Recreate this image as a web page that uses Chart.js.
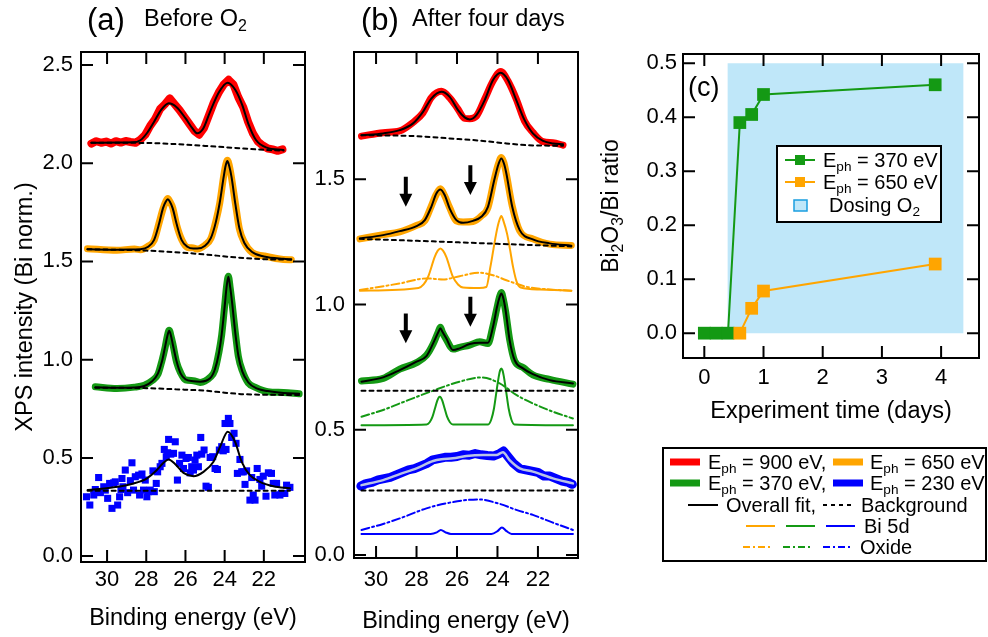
<!DOCTYPE html>
<html><head><meta charset="utf-8">
<script src="https://cdn.jsdelivr.net/npm/chart.js@4.4.1/dist/chart.umd.min.js"></script>
<style>
html,body{margin:0;padding:0;background:#fff}
body{width:988px;height:637px;position:relative;overflow:hidden;font-family:"Liberation Sans",Arial,Helvetica,sans-serif;color:#000}
canvas{position:absolute}
.t{position:absolute;white-space:nowrap;line-height:1;z-index:3}
.m{transform:translateY(-50%)}
sub{font-size:0.68em;vertical-align:-0.32em;line-height:0}
#lgc{position:absolute;left:776px;top:145px;width:166px;height:78px;box-sizing:border-box;border:2px solid #000;background:#fff;z-index:1}
#lgb{position:absolute;left:662px;top:447px;width:325px;height:115px;box-sizing:border-box;border:2px solid #000;background:#fff;z-index:1}
#sw{position:absolute;left:0;top:0;z-index:2}
</style></head><body>
<canvas id="ca" width="320" height="637" style="left:0;top:0;width:320px;height:637px"></canvas>
<canvas id="cb" width="300" height="637" style="left:300px;top:0;width:300px;height:637px"></canvas>
<canvas id="cc" width="388" height="440" style="left:600px;top:0;width:388px;height:440px"></canvas>

<div class="t" style="left:87px;top:4px;font-size:31px">(a)</div>
<div class="t" style="left:144px;top:7px;font-size:23.5px">Before O<sub>2</sub></div>
<div class="t" style="left:361px;top:4px;font-size:31px">(b)</div>
<div class="t" style="left:412px;top:7px;font-size:23.5px">After four days</div>
<div class="t" style="left:688px;top:74px;font-size:27px">(c)</div>
<div class="t" style="left:610px;top:206px;font-size:23px;transform:translate(-50%,-50%) rotate(-90deg)">Bi<sub>2</sub>O<sub>3</sub>/Bi ratio</div>

<div id="lgc"></div>
<div id="lgb"></div>
<svg id="sw" width="988" height="637">
  <line x1="785" y1="160" x2="815" y2="160" stroke="#149914" stroke-width="2"/>
  <rect x="795" y="155" width="10" height="10" fill="#149914"/>
  <line x1="785" y1="182" x2="815" y2="182" stroke="#ffa500" stroke-width="2"/>
  <rect x="795" y="177" width="10" height="10" fill="#ffa500"/>
  <rect x="794" y="200" width="13" height="11" fill="#bfe7f9" stroke="#1a9ee0" stroke-width="1.5"/>

  <line x1="670" y1="462" x2="700" y2="462" stroke="#ff0000" stroke-width="7"/>
  <line x1="833" y1="462" x2="863" y2="462" stroke="#ffa500" stroke-width="7"/>
  <line x1="670" y1="483" x2="700" y2="483" stroke="#149914" stroke-width="7"/>
  <line x1="833" y1="483" x2="863" y2="483" stroke="#0000ff" stroke-width="7"/>
  <line x1="688" y1="505" x2="718" y2="505" stroke="#000" stroke-width="2"/>
  <line x1="823" y1="505" x2="851" y2="505" stroke="#000" stroke-width="2" stroke-dasharray="4,4"/>
  <line x1="746" y1="526" x2="775" y2="526" stroke="#ffa500" stroke-width="2"/>
  <line x1="786" y1="526" x2="815" y2="526" stroke="#149914" stroke-width="2"/>
  <line x1="826" y1="526" x2="855" y2="526" stroke="#0000ff" stroke-width="2"/>
  <line x1="743" y1="547" x2="771" y2="547" stroke="#ffa500" stroke-width="2" stroke-dasharray="7,3,2,3"/>
  <line x1="783" y1="547" x2="812" y2="547" stroke="#149914" stroke-width="2" stroke-dasharray="7,3,2,3"/>
  <line x1="823" y1="547" x2="852" y2="547" stroke="#0000ff" stroke-width="2" stroke-dasharray="7,3,2,3"/>
</svg>
<div class="t m" style="left:823px;top:160px;font-size:20px">E<sub>ph</sub> = 370 eV</div>
<div class="t m" style="left:823px;top:182px;font-size:20px">E<sub>ph</sub> = 650 eV</div>
<div class="t m" style="left:829px;top:205px;font-size:20px">Dosing O<sub>2</sub></div>

<div class="t m" style="left:708px;top:462px;font-size:20px">E<sub>ph</sub> = 900 eV,</div>
<div class="t m" style="left:870px;top:462px;font-size:20px">E<sub>ph</sub> = 650 eV</div>
<div class="t m" style="left:708px;top:483px;font-size:20px">E<sub>ph</sub> = 370 eV,</div>
<div class="t m" style="left:870px;top:483px;font-size:20px">E<sub>ph</sub> = 230 eV</div>
<div class="t m" style="left:726px;top:505px;font-size:20px">Overall fit,</div>
<div class="t m" style="left:861px;top:505px;font-size:20px">Background</div>
<div class="t m" style="left:864px;top:526px;font-size:20px">Bi 5d</div>
<div class="t m" style="left:860px;top:547px;font-size:20px">Oxide</div>

<script>
// ---------------- tick values ----------------
const ticksEnergy = [30, 28, 26, 24, 22];
const ticksIntensityA = [0, 0.5, 1.0, 1.5, 2.0, 2.5];
const ticksIntensityB = [0, 0.5, 1.0, 1.5];
const ticksTime = [0, 1, 2, 3, 4];
const ticksRatio = [0, 0.1, 0.2, 0.3, 0.4, 0.5];

// ---------------- panel (a): before O2 ----------------
const a900DataE = [30.8,30.55,30.3,30.05,29.8,29.55,29.3,29.05,28.8,28.55,28.3,28.05,27.8,27.55,27.3,27.05,26.8,26.55,26.3,26.05,25.8,25.55,25.3,25.05,24.8,24.55,24.3,24.05,23.8,23.55,23.3,23.05,22.8,22.55,22.3,22.05,21.8,21.55,21.3,21.05];
const a900Data = [2.100,2.112,2.104,2.110,2.100,2.112,2.105,2.113,2.108,2.104,2.120,2.145,2.190,2.225,2.275,2.300,2.330,2.300,2.270,2.235,2.200,2.165,2.145,2.180,2.245,2.310,2.360,2.400,2.425,2.400,2.335,2.285,2.210,2.150,2.110,2.090,2.075,2.070,2.063,2.070];
const a900FitE = [30.8,29.5,28.7,28.3,27.95,27.6,27.25,26.85,26.45,26.0,25.65,25.4,25.1,24.75,24.3,23.85,23.45,23.1,22.8,22.4,21.85,21.0];
const a900Fit = [2.104,2.105,2.106,2.117,2.155,2.211,2.270,2.305,2.285,2.229,2.178,2.152,2.175,2.260,2.360,2.410,2.373,2.296,2.203,2.118,2.079,2.067];
const a900BgE = [30.8,28.0,26.5,25.0,23.5,22.0,21.0];
const a900Bg = [2.104,2.103,2.097,2.088,2.078,2.068,2.064];

const a650E = [31.0,29.5,28.6,28.3,27.9,27.6,27.35,27.15,27.0,26.9,26.8,26.65,26.45,26.2,25.9,25.6,25.4,25.0,24.7,24.45,24.25,24.05,23.95,23.86,23.77,23.65,23.45,23.25,23.0,22.6,22.0,21.0,20.6];
const a650Data = [1.565,1.557,1.563,1.560,1.578,1.607,1.694,1.766,1.806,1.820,1.806,1.773,1.686,1.613,1.572,1.569,1.563,1.583,1.617,1.704,1.797,1.934,1.990,2.015,1.991,1.926,1.794,1.666,1.598,1.545,1.528,1.510,1.509];
const a650Fit = [1.562,1.560,1.561,1.562,1.575,1.610,1.690,1.770,1.805,1.816,1.805,1.770,1.690,1.610,1.575,1.566,1.566,1.580,1.620,1.700,1.800,1.930,1.987,2.011,1.987,1.930,1.790,1.670,1.595,1.548,1.525,1.513,1.511];
const a650BgE = [31.0,28.0,25.3,23.5,21.9,20.6];
const a650Bg = [1.562,1.555,1.538,1.521,1.511,1.509];

const a370E = [30.6,29.5,28.6,28.1,27.7,27.4,27.2,27.03,26.92,26.83,26.74,26.65,26.45,26.25,26.0,25.6,25.25,24.74,24.5,24.3,24.15,24.0,23.9,23.81,23.72,23.62,23.45,23.3,23.1,22.8,22.4,21.8,21.0,20.2];
const a370Data = [0.862,0.853,0.860,0.870,0.893,0.926,0.994,1.066,1.123,1.150,1.121,1.083,0.986,0.934,0.897,0.893,0.884,0.910,0.946,1.034,1.126,1.274,1.375,1.425,1.368,1.286,1.134,1.016,0.944,0.882,0.858,0.837,0.833,0.826];
const a370Fit = [0.859,0.857,0.858,0.866,0.890,0.930,0.990,1.070,1.122,1.147,1.122,1.080,0.990,0.930,0.900,0.890,0.888,0.905,0.950,1.030,1.130,1.270,1.370,1.422,1.370,1.290,1.130,1.020,0.940,0.885,0.855,0.840,0.830,0.826];
const a370BgE = [30.6,28.0,26.5,25.0,24.0,23.0,20.2];
const a370Bg = [0.857,0.855,0.849,0.842,0.832,0.824,0.820];

const a230PtsE = [31.05,30.88,30.68,30.60,30.43,30.34,30.17,30.09,29.97,29.87,29.75,29.66,29.58,29.46,29.36,29.29,29.24,29.19,29.07,28.95,28.81,28.73,28.65,28.56,28.39,28.34,28.22,28.14,28.05,27.97,27.88,27.80,27.66,27.59,27.49,27.42,27.29,27.20,27.08,26.98,26.91,26.86,26.75,26.61,26.52,26.41,26.30,26.18,26.10,25.97,25.85,25.76,25.68,25.59,25.51,25.42,25.34,25.22,25.17,25.05,24.95,24.83,24.74,24.61,24.49,24.37,24.27,24.15,24.07,23.93,23.98,23.81,23.73,23.64,23.52,23.42,23.35,23.22,23.13,23.05,22.96,22.88,22.71,22.62,22.54,22.45,22.34,22.20,22.11,22.03,21.89,21.77,21.61,21.52,21.44,21.35,21.18,21.10,20.93,20.84,20.67];
const a230Pts = [0.302,0.260,0.311,0.339,0.400,0.323,0.353,0.336,0.294,0.370,0.243,0.373,0.378,0.260,0.302,0.339,0.395,0.353,0.438,0.323,0.384,0.475,0.336,0.404,0.412,0.311,0.418,0.336,0.387,0.302,0.328,0.336,0.434,0.328,0.370,0.429,0.455,0.472,0.543,0.506,0.526,0.594,0.519,0.523,0.582,0.387,0.472,0.514,0.446,0.497,0.502,0.424,0.455,0.438,0.489,0.514,0.455,0.604,0.519,0.540,0.356,0.350,0.502,0.506,0.446,0.441,0.540,0.557,0.536,0.543,0.675,0.701,0.675,0.604,0.625,0.574,0.421,0.492,0.429,0.429,0.365,0.434,0.285,0.400,0.311,0.285,0.446,0.390,0.356,0.407,0.305,0.424,0.421,0.370,0.311,0.370,0.311,0.319,0.319,0.361,0.350];
const a230FitE = [30.99,29.66,28.65,27.96,27.46,27.12,26.86,26.52,26.1,25.59,25.08,24.57,24.23,23.84,23.47,23.13,22.71,22.2,21.52,20.67];
const a230Fit = [0.336,0.350,0.370,0.396,0.438,0.475,0.492,0.468,0.424,0.407,0.429,0.480,0.557,0.633,0.582,0.480,0.412,0.378,0.356,0.345];
const a230BgE = [30.99,20.67];
const a230Bg = [0.333,0.333];

// ---------------- panel (b): after four days ----------------
const b900E = [30.72,29.65,28.83,28.17,27.68,27.27,26.77,26.36,25.95,25.62,25.37,25.04,24.63,24.22,23.84,23.48,23.07,22.66,22.25,21.75,21.26,20.76];
const b900Data = [1.672,1.686,1.693,1.727,1.765,1.826,1.851,1.825,1.780,1.743,1.742,1.752,1.820,1.892,1.930,1.892,1.820,1.732,1.687,1.650,1.646,1.636];
const b900Fit = [1.676,1.683,1.696,1.723,1.769,1.822,1.849,1.829,1.776,1.747,1.739,1.756,1.816,1.896,1.925,1.896,1.816,1.736,1.683,1.653,1.643,1.640];
const b900BgE = [30.72,28.0,26.36,24.71,23.56,22.25,20.76];
const b900Bg = [1.676,1.672,1.663,1.653,1.643,1.635,1.634];

const b650E = [30.8,29.65,28.83,28.0,27.59,27.27,27.02,26.82,26.61,26.36,26.03,25.7,25.21,24.8,24.47,24.14,23.95,23.81,23.68,23.56,23.27,22.9,22.25,21.42,20.35];
const b650Data = [1.262,1.279,1.290,1.316,1.334,1.393,1.440,1.462,1.434,1.386,1.334,1.329,1.331,1.353,1.387,1.506,1.562,1.587,1.566,1.520,1.393,1.294,1.262,1.241,1.236];
const b650Fit = [1.264,1.277,1.293,1.313,1.337,1.390,1.443,1.459,1.437,1.383,1.337,1.326,1.334,1.350,1.390,1.503,1.560,1.583,1.563,1.523,1.390,1.297,1.260,1.244,1.235];
const b650BgE = [30.8,27.2,23.9,20.35];
const b650Bg = [1.262,1.252,1.242,1.232];
const b650Bi5dE = [30.8,27.9,27.65,27.43,27.1,26.95,26.82,26.69,26.53,26.2,25.95,25.7,24.9,24.55,24.35,24.2,24.06,23.93,23.81,23.69,23.53,23.38,23.23,23.05,22.85,21.9,20.35];
const b650Bi5d = [1.055,1.066,1.080,1.110,1.190,1.215,1.224,1.215,1.190,1.110,1.080,1.068,1.066,1.070,1.150,1.220,1.284,1.330,1.353,1.330,1.284,1.220,1.150,1.090,1.068,1.060,1.055];
const b650OxE = [30.8,28.83,27.51,26.69,25.87,24.88,24.22,23.56,22.58,21.42,20.35];
const b650Ox = [1.058,1.084,1.104,1.100,1.113,1.127,1.117,1.097,1.071,1.060,1.055];

const b370E = [30.72,29.65,28.83,28.0,27.51,27.18,26.92,26.82,26.72,26.53,26.2,25.87,25.37,24.88,24.47,24.22,24.02,23.9,23.81,23.72,23.6,23.4,23.15,22.74,22.25,21.42,20.27];
const b370Data = [0.695,0.705,0.742,0.768,0.797,0.842,0.892,0.909,0.889,0.861,0.822,0.829,0.838,0.851,0.844,0.915,0.988,1.030,1.048,1.025,0.974,0.861,0.775,0.749,0.719,0.701,0.682];
const b370Fit = [0.692,0.709,0.738,0.772,0.794,0.845,0.890,0.905,0.891,0.865,0.818,0.825,0.842,0.847,0.847,0.911,0.991,1.028,1.044,1.028,0.978,0.858,0.778,0.745,0.722,0.698,0.685];
const b370BgE = [30.72,20.27];
const b370Bg = [0.656,0.656];
const b370Bi5dE = [30.72,27.5,27.35,27.21,27.09,26.97,26.91,26.85,26.79,26.73,26.61,26.49,26.35,26.2,24.46,24.31,24.17,24.05,23.93,23.87,23.81,23.75,23.69,23.57,23.45,23.31,23.16,20.27];
const b370Bi5d = [0.518,0.521,0.530,0.552,0.585,0.617,0.628,0.632,0.628,0.617,0.585,0.552,0.530,0.521,0.521,0.540,0.586,0.652,0.715,0.737,0.745,0.737,0.715,0.652,0.586,0.540,0.521,0.518];
const b370OxE = [30.72,29.65,28.83,27.18,25.87,24.8,23.89,23.07,22.25,21.26,20.27];
const b370Ox = [0.552,0.579,0.605,0.656,0.692,0.709,0.685,0.639,0.605,0.572,0.545];

const b230DataE = [30.75,30.5,30.2,29.9,29.6,29.3,29.0,28.7,28.4,28.1,27.8,27.5,27.2,26.9,26.6,26.3,26.0,25.7,25.4,25.1,24.8,24.5,24.2,23.9,23.7,23.5,23.2,22.9,22.6,22.3,22.0,21.7,21.4,21.1,20.8,20.5,20.3];
const b230Data = [0.275,0.285,0.290,0.300,0.305,0.310,0.320,0.330,0.340,0.345,0.355,0.365,0.380,0.385,0.390,0.390,0.393,0.400,0.398,0.405,0.400,0.397,0.395,0.405,0.415,0.395,0.365,0.345,0.340,0.335,0.330,0.315,0.315,0.305,0.295,0.290,0.282];
const b230FitE = [30.72,29.65,28.83,28.0,27.18,26.77,26.2,25.54,24.71,24.06,23.73,23.4,22.9,22.25,21.26,20.27];
const b230Fit = [0.279,0.299,0.323,0.346,0.375,0.382,0.386,0.395,0.399,0.399,0.410,0.379,0.346,0.333,0.306,0.286];
const b230BgE = [30.72,20.27];
const b230Bg = [0.257,0.257];
const b230Bi5dE = [30.72,27.3,27.0,26.8,26.55,26.3,24.3,24.0,23.78,23.55,23.3,20.27];
const b230Bi5d = [0.084,0.084,0.090,0.100,0.090,0.084,0.084,0.095,0.110,0.095,0.084,0.084];
const b230OxE = [30.72,29.65,28.83,27.51,26.36,24.96,23.89,23.07,22.25,21.26,20.27];
const b230Ox = [0.100,0.124,0.146,0.186,0.209,0.222,0.204,0.180,0.160,0.129,0.100];

// arrows marking the oxide shoulders (energy, arrow top, arrow tip)
const arrowE = [28.53, 25.34, 28.53, 25.34];
const arrowTop = [1.510, 1.556, 0.964, 1.031];
const arrowTip = [1.390, 1.437, 0.845, 0.911];

// ---------------- panel (c): oxide ratio vs time ----------------
const time370 = [0, 0.2, 0.4, 0.6, 0.8, 1.0, 3.9];
const ratio370 = [0, 0, 0, 0.390, 0.405, 0.442, 0.460];
const time650 = [0.6, 0.8, 1.0, 3.9];
const ratio650 = [0, 0.046, 0.078, 0.128];
const doseTime = [0.39, 4.38];
const doseLevel = [0.5, 0.5];

// ---------------- helpers ----------------
const FONT = '"Liberation Sans", Arial, Helvetica, sans-serif';
Chart.defaults.font.family = FONT;
Chart.defaults.color = '#000';
const RED = '#ff0000', ORANGE = '#ffa500', GREEN = '#149914', BLUE = '#0000ff';

const pts = (E, V) => E.map((e, i) => ({x: e, y: V[i]}));
function ln(E, V, color, width, extra) {
  return Object.assign({data: pts(E, V), borderColor: color, backgroundColor: color,
    borderWidth: width, pointRadius: 0, cubicInterpolationMode: 'monotone', fill: false,
    borderJoinStyle: 'round', borderCapStyle: 'round'}, extra || {});
}
const DASH = [4, 4], DASHDOT = [8, 3, 2, 3];

const frameTicks = {
  id: 'frameTicks',
  afterDraw(chart) {
    const {ctx, chartArea: {left, right, top, bottom}, scales: {x, y}} = chart;
    const L = 12;
    ctx.save();
    ctx.strokeStyle = '#000'; ctx.lineWidth = 2; ctx.setLineDash([]);
    ctx.strokeRect(left, top, right - left, bottom - top);
    ctx.beginPath();
    x.ticks.forEach(t => { const p = x.getPixelForValue(t.value);
      ctx.moveTo(p, bottom); ctx.lineTo(p, bottom - L); ctx.moveTo(p, top); ctx.lineTo(p, top + L); });
    y.ticks.forEach(t => { const p = y.getPixelForValue(t.value);
      ctx.moveTo(left, p); ctx.lineTo(left + L, p); ctx.moveTo(right, p); ctx.lineTo(right - L, p); });
    ctx.stroke();
    ctx.restore();
  }
};

const arrows = {
  id: 'arrows',
  afterDatasetsDraw(chart) {
    const {ctx, scales: {x, y}} = chart;
    ctx.save(); ctx.fillStyle = '#000'; ctx.strokeStyle = '#000'; ctx.lineWidth = 4;
    arrowE.forEach((e, i) => {
      const px = x.getPixelForValue(e), y0 = y.getPixelForValue(arrowTop[i]), y1 = y.getPixelForValue(arrowTip[i]);
      const hl = 13, hw = 6.5;
      ctx.beginPath(); ctx.moveTo(px, y0); ctx.lineTo(px, y1 - hl + 1); ctx.stroke();
      ctx.beginPath(); ctx.moveTo(px - hw, y1 - hl); ctx.lineTo(px + hw, y1 - hl); ctx.lineTo(px, y1); ctx.closePath(); ctx.fill();
    });
    ctx.restore();
  }
};

function axes(o) {
  return {
    x: {type: 'linear', reverse: o.xReverse, min: o.xMin, max: o.xMax,
      grid: {display: false, drawTicks: false}, border: {display: false},
      afterBuildTicks: s => { s.ticks = o.xTicks.map(v => ({value: v})); },
      afterFit: s => { s.height = o.xH; },
      ticks: {padding: o.xPad, maxRotation: 0, autoSkip: false, font: {size: 22}, color: '#000',
        callback: v => String(v)},
      title: {display: true, text: o.xTitle, font: {size: 23.5}, color: '#000', padding: {top: 0, bottom: o.xTitlePad}}},
    y: {type: 'linear', min: o.yMin, max: o.yMax,
      grid: {display: false, drawTicks: false}, border: {display: false},
      afterBuildTicks: s => { s.ticks = o.yTicks.map(v => ({value: v})); },
      afterFit: s => { s.width = o.yW; },
      ticks: {padding: o.yPad, font: {size: 22}, color: '#000', callback: v => v.toFixed(1)},
      title: {display: !!o.yTitle, text: o.yTitle || '', font: {size: 23.5}, color: '#000', padding: {top: 11, bottom: 0}}}
  };
}
function baseOpts(padding, scales) {
  return {responsive: false, animation: false, events: [],
    layout: {padding},
    plugins: {legend: {display: false}, tooltip: {enabled: false}},
    scales};
}

// ---------------- chart (a) ----------------
new Chart(document.getElementById('ca'), {
  type: 'line',
  data: {datasets: [
    ln(a900FitE, a900Fit, '#000', 2, {order: 0}),
    ln(a900BgE, a900Bg, '#000', 2, {borderDash: DASH, order: 1}),
    ln(a900DataE, a900Data, RED, 8, {order: 5, cubicInterpolationMode: 'default', tension: 0}),
    ln(a650E, a650Fit, '#000', 2, {order: 0}),
    ln(a650BgE, a650Bg, '#000', 2, {borderDash: DASH, order: 1}),
    ln(a650E, a650Data, ORANGE, 7, {order: 5}),
    ln(a370E, a370Fit, '#000', 2, {order: 0}),
    ln(a370BgE, a370Bg, '#000', 2, {borderDash: DASH, order: 1}),
    ln(a370E, a370Data, GREEN, 7, {order: 5}),
    ln(a230FitE, a230Fit, '#000', 2, {order: 0}),
    ln(a230BgE, a230Bg, '#000', 2, {borderDash: DASH, order: 1}),
    {data: pts(a230PtsE, a230Pts), showLine: false, pointStyle: 'rect', pointRadius: 5,
      pointBorderWidth: 0, backgroundColor: BLUE, borderColor: BLUE, order: 5}
  ]},
  options: baseOpts({top: 52, right: 15, left: 0, bottom: 0}, axes({
    xReverse: true, xMin: 19.9, xMax: 31.33, xTicks: ticksEnergy, xH: 75, xPad: 5,
    xTitle: 'Binding energy (eV)', xTitlePad: 4,
    yMin: -0.03, yMax: 2.566, yTicks: ticksIntensityA, yW: 81, yPad: 8,
    yTitle: 'XPS intensity (Bi norm.)'})),
  plugins: [frameTicks]
});

// ---------------- chart (b) ----------------
new Chart(document.getElementById('cb'), {
  type: 'line',
  data: {datasets: [
    ln(b900E, b900Fit, '#000', 2, {order: 0}),
    ln(b900BgE, b900Bg, '#000', 2, {borderDash: DASH, order: 1}),
    ln(b900E, b900Data, RED, 7, {order: 5}),
    ln(b650E, b650Fit, '#000', 2, {order: 0}),
    ln(b650BgE, b650Bg, '#000', 2, {borderDash: DASH, order: 1}),
    ln(b650E, b650Data, ORANGE, 7, {order: 5}),
    ln(b650Bi5dE, b650Bi5d, ORANGE, 2, {order: 2}),
    ln(b650OxE, b650Ox, ORANGE, 2, {borderDash: DASHDOT, order: 2}),
    ln(b370E, b370Fit, '#000', 2, {order: 0}),
    ln(b370BgE, b370Bg, '#000', 2, {borderDash: DASH, order: 1}),
    ln(b370E, b370Data, GREEN, 7, {order: 5}),
    ln(b370Bi5dE, b370Bi5d, GREEN, 2, {order: 2}),
    ln(b370OxE, b370Ox, GREEN, 2, {borderDash: DASHDOT, order: 2}),
    ln(b230FitE, b230Fit, '#b9c3e6', 2.5, {order: 0}),
    ln(b230BgE, b230Bg, '#000', 2, {borderDash: DASH, order: 1}),
    ln(b230DataE, b230Data, BLUE, 9, {order: 5, cubicInterpolationMode: 'default', tension: 0}),
    ln(b230Bi5dE, b230Bi5d, BLUE, 2, {order: 2}),
    ln(b230OxE, b230Ox, BLUE, 2, {borderDash: DASHDOT, order: 2})
  ]},
  options: baseOpts({top: 52, right: 22, left: 0, bottom: 0}, axes({
    xReverse: true, xMin: 20.02, xMax: 31.09, xTicks: ticksEnergy, xH: 79, xPad: 9,
    xTitle: 'Binding energy (eV)', xTitlePad: 1,
    yMin: -0.012, yMax: 2.008, yTicks: ticksIntensityB, yW: 54, yPad: 9})),
  plugins: [arrows, frameTicks]
});

// ---------------- chart (c) ----------------
new Chart(document.getElementById('cc'), {
  type: 'line',
  data: {datasets: [
    {data: pts(doseTime, doseLevel), fill: 'origin', backgroundColor: '#bfe7f9', borderWidth: 0,
      pointRadius: 0, order: 10},
    {data: pts(time650, ratio650), borderColor: ORANGE, backgroundColor: ORANGE, borderWidth: 2,
      pointStyle: 'rect', pointRadius: 9, pointBorderWidth: 0, order: 0},
    {data: pts(time370, ratio370), borderColor: GREEN, backgroundColor: GREEN, borderWidth: 2,
      pointStyle: 'rect', pointRadius: 9, pointBorderWidth: 0, order: 1}
  ]},
  options: baseOpts({top: 54, right: 2, left: 0, bottom: 0}, axes({
    xReverse: false, xMin: -0.36, xMax: 4.64, xTicks: ticksTime, xH: 82, xPad: 7,
    xTitle: 'Experiment time (days)', xTitlePad: 14,
    yMin: -0.046, yMax: 0.517, yTicks: ticksRatio, yW: 83, yPad: 6})),
  plugins: [frameTicks]
});
</script>
</body></html>
